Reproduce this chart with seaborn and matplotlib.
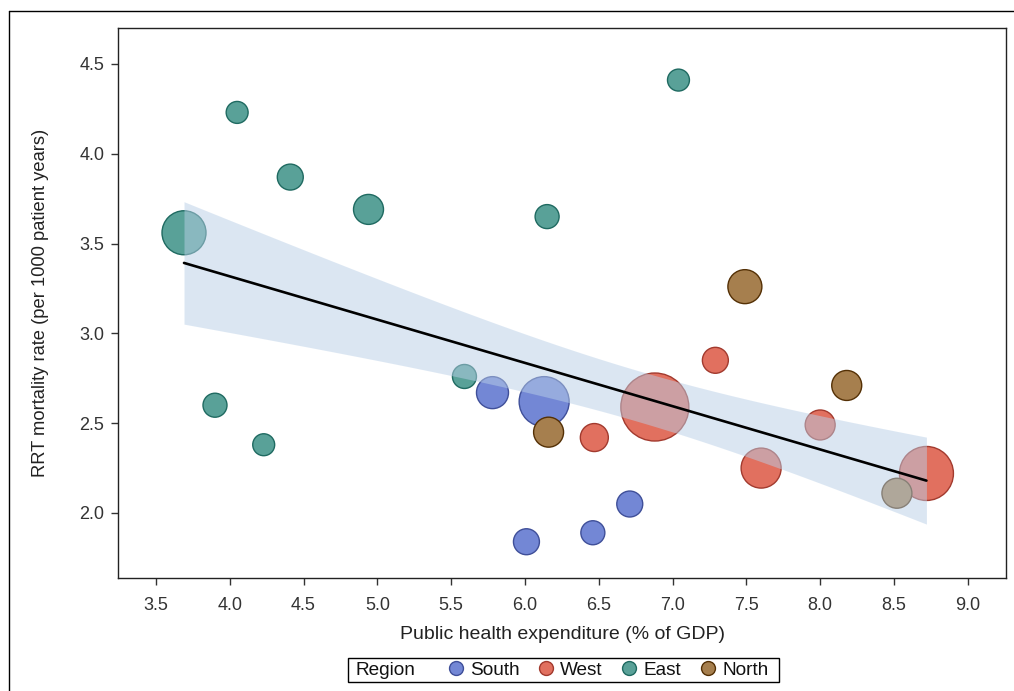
import numpy as np
import pandas as pd
import matplotlib
matplotlib.use("Agg")
import matplotlib.pyplot as plt
import matplotlib.ticker as mticker
import seaborn as sns
from matplotlib.lines import Line2D
from matplotlib.offsetbox import HPacker, DrawingArea

# ---- data -----------------------------------------------------------------
region = (["East"] * 9) + (["South"] * 5) + (["West"] * 6) + (["North"] * 4)
expenditure = [3.69, 4.05, 4.41, 4.94, 6.15, 7.04, 3.90, 4.23, 5.59,   # East
               5.78, 6.13, 6.01, 6.46, 6.71,                           # South
               6.47, 6.88, 7.29, 7.60, 8.00, 8.72,                     # West
               7.49, 8.18, 6.16, 8.52]                                 # North
mortality = [3.56, 4.23, 3.87, 3.69, 3.65, 4.41, 2.60, 2.38, 2.76,
             2.67, 2.62, 1.84, 1.89, 2.05,
             2.42, 2.59, 2.85, 2.25, 2.49, 2.22,
             3.26, 2.71, 2.45, 2.11]
population = [24.5, 1.1, 3.1, 6.1, 2.0, 1.1, 2.0, 1.1, 2.0,
              8.0, 36.1, 3.1, 2.0, 3.1,
              4.5, 84.5, 3.1, 18.0, 6.1, 45.1,
              10.1, 6.1, 6.1, 6.1]

region_order = ["South", "West", "East", "North"]
fill_colors = {"South": "#7387D5", "West": "#E1705F", "East": "#59A198", "North": "#A67F4E"}
edge_colors = {"South": "#3F4F99", "West": "#A23A2E", "East": "#1F6A61", "North": "#543005"}

df = pd.DataFrame({"Region": region, "Expenditure": expenditure,
                   "Mortality": mortality, "Population": population})

# ---- style ----------------------------------------------------------------
sns.set_theme(style="white")
plt.rcParams["font.family"] = ["Liberation Sans", "DejaVu Sans"]

fig = plt.figure(figsize=(10.14, 6.91), dpi=100)
ax = fig.add_axes([0.1164, 0.1635, 0.9921 - 0.1164, 0.9595 - 0.1635])

# bubble radius grows with the square root of population (radius in pixels)
def bubble_area(pop):
    radius_px = 8.0 + np.sqrt(8.0 * pop)
    return (2.0 * radius_px * 72.0 / fig.dpi) ** 2

size_map = {p: bubble_area(p) for p in sorted(set(population))}

for reg in region_order:
    sub = df[df["Region"] == reg]
    sns.scatterplot(data=sub, x="Expenditure", y="Mortality", size="Population",
                    sizes={p: size_map[p] for p in sub["Population"].unique()},
                    color=fill_colors[reg], edgecolor=edge_colors[reg],
                    linewidth=1.0, alpha=1.0, legend=False, ax=ax)

# ---- population-weighted linear fit with 95% confidence band -------------
x = df["Expenditure"].to_numpy(float)
y = df["Mortality"].to_numpy(float)
w = df["Population"].to_numpy(float)
n = len(x)
W = w.sum()
xm = (w * x).sum() / W
ym = (w * y).sum() / W
sxx = (w * (x - xm) ** 2).sum()
slope = (w * (x - xm) * (y - ym)).sum() / sxx
intercept = ym - slope * xm
resid = y - (intercept + slope * x)
s2 = (w * resid ** 2).sum() / (n - 2)
t_crit = 2.0739  # Student t quantile, 0.975, 22 df

xg = np.linspace(x.min(), x.max(), 200)
yg = intercept + slope * xg
se = np.sqrt(s2 * (1.0 / W + (xg - xm) ** 2 / sxx))
ax.fill_between(xg, yg - t_crit * se, yg + t_crit * se,
                color="#B9CFE7", alpha=0.5, linewidth=0, zorder=3)
ax.plot(xg, yg, color="black", linewidth=1.9, zorder=4)

# ---- axes -----------------------------------------------------------------
ax.set_xlim(3.243, 9.259)
ax.set_ylim(1.638, 4.70)
ax.set_xticks(np.arange(3.5, 9.01, 0.5))
ax.set_yticks(np.arange(2.0, 4.51, 0.5))
ax.xaxis.set_major_formatter(mticker.FormatStrFormatter("%.1f"))
ax.yaxis.set_major_formatter(mticker.FormatStrFormatter("%.1f"))
ax.tick_params(axis="both", which="major", direction="out", length=5,
               width=1, color="#333333", labelsize=13, labelcolor="#333333",
               bottom=True, left=True, pad=5)
ax.tick_params(axis="x", pad=8.5)
for sp in ax.spines.values():
    sp.set_color("#222222")
    sp.set_linewidth(1.0)
ax.set_xlabel("Public health expenditure (% of GDP)", fontsize=14,
              color="#222222", labelpad=9)
ax.set_ylabel("RRT mortality rate (per 1000 patient years)", fontsize=13.2,
              color="#222222", labelpad=22)

# ---- legend with inline title ---------------------------------------------
handles = [Line2D([], [], linestyle="", marker="o", markersize=10,
                  markerfacecolor=fill_colors[r], markeredgecolor=edge_colors[r],
                  markeredgewidth=1.0) for r in region_order]
leg = ax.legend(handles=handles, labels=region_order, title="Region", ncol=4,
                loc="center", bbox_to_anchor=(0.5557, 0.0304),
                bbox_transform=fig.transFigure, frameon=True, fancybox=False,
                edgecolor="black", framealpha=1, fontsize=13.7,
                title_fontsize=13.7, handlelength=0.8, handletextpad=0.35,
                columnspacing=1.0, borderpad=0.2, borderaxespad=0)
leg.get_frame().set_linewidth(1.0)
for t in leg.get_texts():
    t.set_color("#111111")
leg.get_title().set_color("#111111")
fs = leg._fontsize
inner = HPacker(pad=0, sep=1.7 * fs, align="baseline",
                children=[leg._legend_title_box, leg._legend_handle_box])
leg._legend_box = HPacker(pad=leg.borderpad * fs, sep=0, align="center",
                          children=[DrawingArea(3, 1), inner, DrawingArea(5, 1)])
leg._legend_box.set_figure(fig)
leg._legend_box.axes = ax
leg._legend_box.set_offset(leg._findoffset)

# outer frame lines around the graph area
fig.add_artist(Line2D([9 / 1014, 9 / 1014], [0, 1 - 11 / 691],
                      transform=fig.transFigure, color="black", linewidth=1.0))
fig.add_artist(Line2D([9 / 1014, 1], [1 - 11 / 691, 1 - 11 / 691],
                      transform=fig.transFigure, color="black", linewidth=1.0))

fig.savefig("out.png", dpi=100)
